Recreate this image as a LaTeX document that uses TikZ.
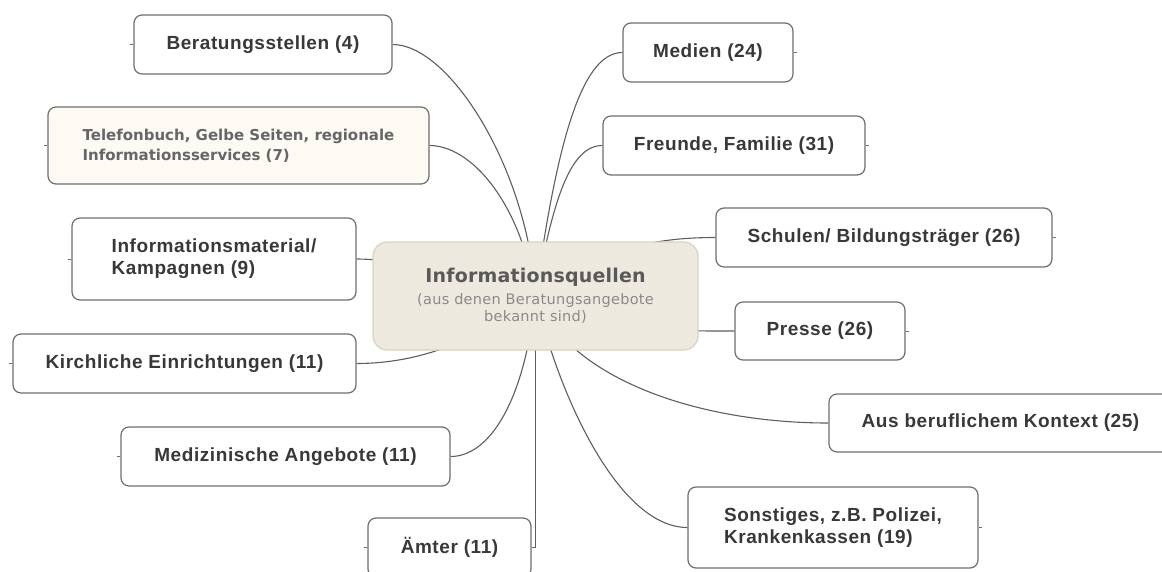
\documentclass[tikz,border=0pt]{standalone}
\usepackage{fontspec}
\setmainfont{Liberation Sans}
\newfontfamily\boxfont[LetterSpace=3]{Liberation Sans}
\newfontfamily\hubfont[LetterSpace=1]{DejaVu Sans}
\newfontfamily\hubsubfont[LetterSpace=2]{DejaVu Sans}
\newfontfamily\notefont{DejaVu Sans}
\usetikzlibrary{backgrounds}

\definecolor{boxline}{HTML}{6E6E6E}
\definecolor{linkline}{HTML}{5E5E5E}
\definecolor{boxtext}{HTML}{383838}
\definecolor{hubfill}{HTML}{EDE9DF}
\definecolor{hubline}{HTML}{D9D2C2}
\definecolor{hubtitle}{HTML}{595959}
\definecolor{hubsub}{HTML}{8A8A8A}
\definecolor{notefill}{HTML}{FDFAF4}
\definecolor{notetext}{HTML}{666666}

\tikzset{
  topic/.style={draw=boxline, line width=1.2pt, rounded corners=8pt, fill=white,
    text=boxtext, font=\boxfont\bfseries\fontsize{19}{22}\selectfont,
    inner sep=0pt, align=left},
  notetopic/.style={topic, fill=notefill, text=notetext,
    font=\notefont\bfseries\fontsize{15}{20}\selectfont},
  hubtopic/.style={draw=hubline, line width=1.2pt, rounded corners=14pt, fill=hubfill,
    inner sep=0pt, align=center, text=hubsub,
    font=\hubsubfont\fontsize{14.5}{17}\selectfont},
  link/.style={draw=linkline, line width=1.1pt},
  stub/.style={draw=boxline, line width=1pt}
}

\begin{document}
\begin{tikzpicture}[x=1pt, y=-1pt]
\useasboundingbox (0,0) rectangle (1162,571);

% central topic
\node[hubtopic, minimum width=325pt, minimum height=108pt] (hub) at (535.5,296)
  {{\hubfont\bfseries\fontsize{19}{23}\selectfont\color{hubtitle}Informationsquellen}\\[5pt]
   (aus denen Beratungsangebote\\bekannt sind)};

% left branch
\node[topic, minimum width=258pt, minimum height=59pt] (berat) at (263,44.5) {Beratungsstellen (4)};
\node[notetopic, minimum width=381pt, minimum height=77pt] (telef) at (238.5,145.5)
  {Telefonbuch, Gelbe Seiten, regionale\\Informationsservices (7)};
\node[topic, minimum width=284pt, minimum height=82pt] (infom) at (214,259)
  {Informationsmaterial/\\Kampagnen (9)};
\node[topic, minimum width=343pt, minimum height=59pt] (kirch) at (184.5,363.5) {Kirchliche Einrichtungen (11)};
\node[topic, minimum width=329pt, minimum height=59pt] (mediz) at (285.5,456.5) {Medizinische Angebote (11)};
\node[topic, minimum width=163pt, minimum height=59pt] (amter) at (449.5,547.5) {Ämter (11)};

% right branch
\node[topic, minimum width=170pt, minimum height=59pt] (medien) at (708,52.5) {Medien (24)};
\node[topic, minimum width=262pt, minimum height=59pt] (freunde) at (734,145.5) {Freunde, Familie (31)};
\node[topic, minimum width=336pt, minimum height=59pt] (schulen) at (884,237.5) {Schulen/ Bildungsträger (26)};
\node[topic, minimum width=170pt, minimum height=58pt] (presse) at (820,331) {Presse (26)};
\node[topic, minimum width=343pt, minimum height=58pt] (beruf) at (1000.5,423) {Aus beruflichem Kontext (25)};
\node[topic, minimum width=290pt, minimum height=81pt] (sonst) at (833,527.5)
  {Sonstiges, z.B. Polizei,\\Krankenkassen (19)};

% connectors run behind the topics
\begin{scope}[on background layer]
\draw[link] (hub.center) .. controls (528,170) and (450,44.5) .. (berat.east);
\draw[link] (hub.center) .. controls (520,200) and (470,145.5) .. (telef.east);
\draw[link] (hub.center) .. controls (470,290) and (420,259) .. (infom.east);
\draw[link] (hub.center) .. controls (480,340) and (420,363.5) .. (kirch.east);
\draw[link] (hub.center) .. controls (525,400) and (490,456.5) .. (mediz.east);
\draw[link] (hub.center) |- (amter.east);
\draw[link] (hub.center) .. controls (556,150) and (580,52.5) .. (medien.west);
\draw[link] (hub.center) .. controls (553,200) and (570,145.5) .. (freunde.west);
\draw[link] (hub.center) .. controls (600,250) and (650,237.5) .. (schulen.west);
\draw[link] (hub.center) .. controls (600,331) and (650,331) .. (presse.west);
\draw[link] (hub.center) .. controls (570,380) and (700,423) .. (beruf.west);
\draw[link] (hub.center) .. controls (560,400) and (620,527.5) .. (sonst.west);
\end{scope}

% collapse stubs on the outer sides of the topics
\foreach \n in {berat,telef,infom,kirch,mediz,amter}
  \draw[stub] (\n.west) -- ++(-3,0);
\foreach \n in {medien,freunde,schulen,presse,sonst}
  \draw[stub] (\n.east) -- ++(3,0);
\end{tikzpicture}
\end{document}
